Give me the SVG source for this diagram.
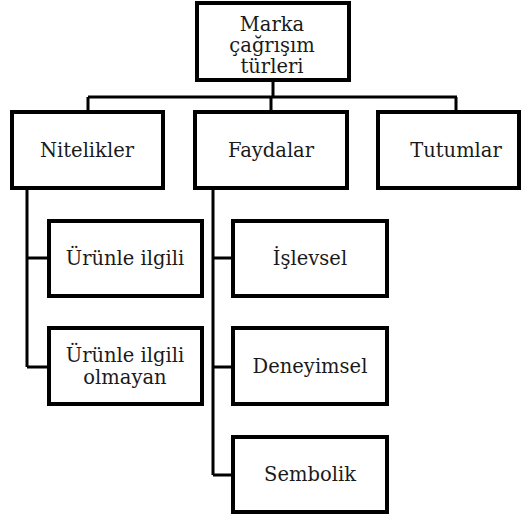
<svg xmlns="http://www.w3.org/2000/svg" width="525" height="518" viewBox="0 0 525 518">
  <style>
    .box { fill: #ffffff; stroke: #000000; stroke-width: 4; }
    .link { fill: none; stroke: #000000; stroke-width: 3; }
    .label { font-family: "DejaVu Serif", "Liberation Serif", serif; font-size: 19.5px; fill: #1a1a1a; text-anchor: middle; }
  </style>
  <rect width="525" height="518" fill="#ffffff"/>

  <g id="connectors">
    <!-- root to second level -->
    <path class="link" d="M273 80 V97 M88 97 H457 M88 97 V112 M271 97 V112 M456 97 V112"/>
    <!-- Nitelikler branch -->
    <path class="link" d="M27 188 V367 M27 258 H49 M27 367 H49"/>
    <!-- Faydalar branch -->
    <path class="link" d="M213 188 V475 M213 258 H233 M213 367 H233 M213 475 H233"/>
  </g>

  <g id="root">
    <rect class="box" x="197" y="3" width="152" height="77"/>
    <text class="label" x="272" y="31">Marka</text>
    <text class="label" x="272" y="52">çağrışım</text>
    <text class="label" x="272" y="73">türleri</text>
  </g>

  <g id="nitelikler">
    <rect class="box" x="12" y="112" width="151" height="76"/>
    <text class="label" x="87" y="157">Nitelikler</text>
  </g>

  <g id="faydalar">
    <rect class="box" x="195" y="112" width="152" height="76"/>
    <text class="label" x="271" y="157">Faydalar</text>
  </g>

  <g id="tutumlar">
    <rect class="box" x="378" y="112" width="141" height="76"/>
    <text class="label" x="456" y="157">Tutumlar</text>
  </g>

  <g id="urunle-ilgili">
    <rect class="box" x="49" y="221" width="153" height="75"/>
    <text class="label" x="125" y="265">Ürünle ilgili</text>
  </g>

  <g id="urunle-ilgili-olmayan">
    <rect class="box" x="49" y="328" width="153" height="76"/>
    <text class="label" x="125" y="362">Ürünle ilgili</text>
    <text class="label" x="125" y="384">olmayan</text>
  </g>

  <g id="islevsel">
    <rect class="box" x="233" y="221" width="154" height="75"/>
    <text class="label" x="310" y="265">İşlevsel</text>
  </g>

  <g id="deneyimsel">
    <rect class="box" x="233" y="328" width="154" height="76"/>
    <text class="label" x="310" y="373">Deneyimsel</text>
  </g>

  <g id="sembolik">
    <rect class="box" x="233" y="437" width="154" height="75"/>
    <text class="label" x="310" y="481">Sembolik</text>
  </g>
</svg>
